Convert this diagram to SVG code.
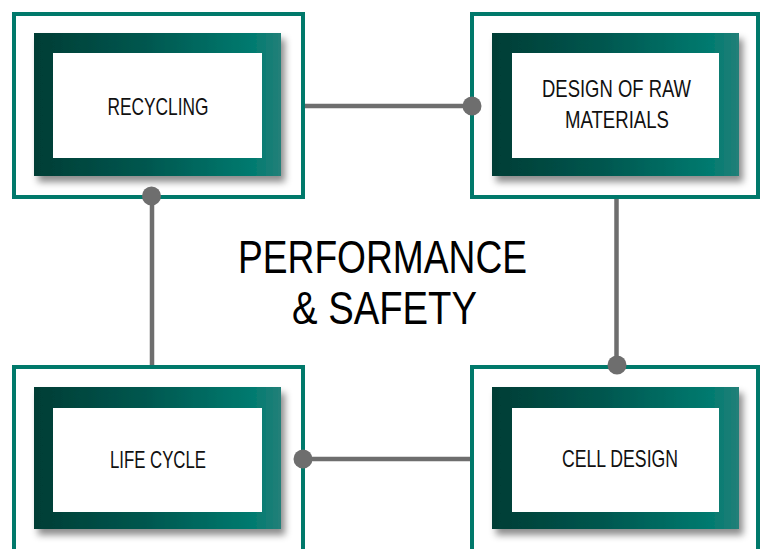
<svg xmlns="http://www.w3.org/2000/svg" width="762" height="549" viewBox="0 0 762 549">
  <defs>
    <linearGradient id="g" x1="0" y1="0" x2="1" y2="0">
      <stop offset="0" stop-color="#003d35"/>
      <stop offset="0.45" stop-color="#00574f"/>
      <stop offset="0.88" stop-color="#007a6f"/>
      <stop offset="1" stop-color="#238079"/>
    </linearGradient>
    <filter id="sh" x="-10%" y="-10%" width="125%" height="130%">
      <feDropShadow dx="4" dy="6" stdDeviation="3.5" flood-color="#000" flood-opacity="0.45"/>
    </filter>
  </defs>
  <style>
    .frame{fill:#fff;stroke:#00796b;stroke-width:4}
    .band{fill:url(#g);filter:url(#sh)}
    .inner{fill:#fff}
    .lbl{font-family:"Liberation Sans",Arial,sans-serif;font-size:24px;fill:#111;text-anchor:middle}
    .title{font-family:"Liberation Sans",Arial,sans-serif;font-size:46px;fill:#000;text-anchor:middle}
    .conn line{stroke:#6e6e6e;stroke-width:4.5}
    .conn circle{fill:#6e6e6e}
  </style>
  <rect width="762" height="549" fill="#fff"/>

  <g id="recycling">
    <rect class="frame" x="14" y="14" width="289" height="183"/>
    <rect class="band" x="34" y="33" width="247" height="143"/>
    <rect class="inner" x="53" y="53" width="209" height="105"/>
    <text class="lbl" x="158" y="115" textLength="101" lengthAdjust="spacingAndGlyphs">RECYCLING</text>
  </g>

  <g id="design-raw">
    <rect class="frame" x="472" y="14" width="286" height="183"/>
    <rect class="band" x="492" y="33" width="247" height="143"/>
    <rect class="inner" x="512" y="53" width="207" height="105"/>
    <text class="lbl" x="616.5" y="97" textLength="149" lengthAdjust="spacingAndGlyphs">DESIGN OF RAW</text>
    <text class="lbl" x="617" y="128" textLength="104" lengthAdjust="spacingAndGlyphs">MATERIALS</text>
  </g>

  <g id="life-cycle">
    <rect class="frame" x="14" y="367" width="289" height="200"/>
    <rect class="band" x="34" y="387" width="247" height="142"/>
    <rect class="inner" x="53" y="408" width="209" height="104"/>
    <text class="lbl" x="158" y="468" textLength="96" lengthAdjust="spacingAndGlyphs">LIFE CYCLE</text>
  </g>

  <g id="cell-design">
    <rect class="frame" x="472" y="367" width="286" height="200"/>
    <rect class="band" x="492" y="387" width="247" height="142"/>
    <rect class="inner" x="512" y="408" width="207" height="104"/>
    <text class="lbl" x="620" y="467" textLength="116" lengthAdjust="spacingAndGlyphs">CELL DESIGN</text>
  </g>

  <g id="connectors" class="conn">
    <line x1="305" y1="106" x2="472" y2="106"/>
    <circle cx="472" cy="106" r="9.5"/>
    <line x1="152" y1="196" x2="152" y2="365"/>
    <circle cx="151.5" cy="196" r="9.5"/>
    <line x1="616.5" y1="199" x2="616.5" y2="365"/>
    <circle cx="617" cy="365" r="9.5"/>
    <line x1="303" y1="459" x2="470" y2="459"/>
    <circle cx="303" cy="459" r="9.5"/>
  </g>

  <g id="title">
    <text class="title" x="382.5" y="273" textLength="289" lengthAdjust="spacingAndGlyphs">PERFORMANCE</text>
    <text class="title" x="384.5" y="324" textLength="185" lengthAdjust="spacingAndGlyphs">&amp; SAFETY</text>
  </g>
</svg>
